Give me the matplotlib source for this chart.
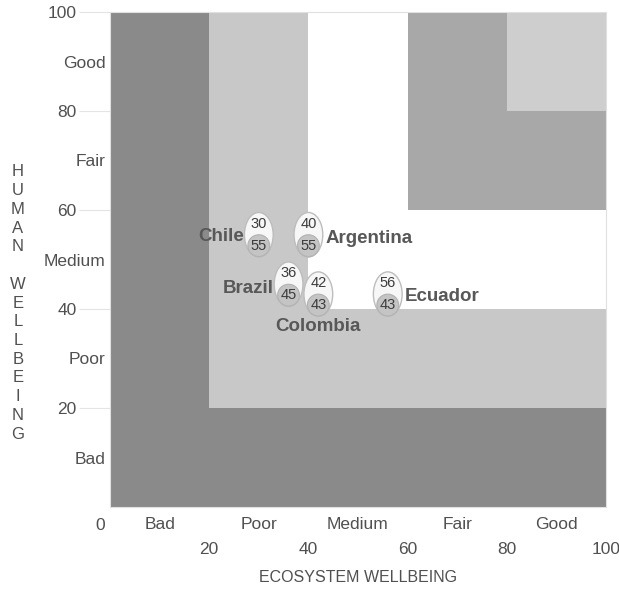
import matplotlib
matplotlib.use("Agg")
import matplotlib.pyplot as plt
from matplotlib.patches import Rectangle, Ellipse

plt.rcParams['font.family'] = ['Liberation Sans', 'DejaVu Sans']

# ---- data ----
countries = ["Chile", "Argentina", "Brazil", "Colombia", "Ecuador"]
ecosystem = [30, 40, 36, 42, 56]
human = [55, 55, 45, 43, 43]

band_edges = [0, 20, 40, 60, 80]
band_names = ["Bad", "Poor", "Medium", "Fair", "Good"]
number_ticks = [20, 40, 60, 80, 100]

# ---- styles ----
band_colors = ["#8a8a8a", "#c8c8c8", "#ffffff", "#a8a8a8", "#cecece"]
label_place = {
    "Chile": ((-11, -1), "right", "center"),
    "Argentina": ((12, -3), "left", "center"),
    "Brazil": ((-11, -3), "right", "center"),
    "Colombia": ((0, -23), "center", "center"),
    "Ecuador": ((12, -2), "left", "center"),
}
text_color = "#505050"

fig = plt.figure(figsize=(6.19, 5.92), dpi=100)
ax = fig.add_axes([110 / 619, 1 - 507 / 592, 496 / 619, 495 / 592])
ax.set_xlim(0, 100)
ax.set_ylim(0, 100)

for lo, col in zip(band_edges, band_colors):
    ax.add_patch(Rectangle((lo, lo), 100 - lo, 100 - lo, facecolor=col,
                           edgecolor="none", zorder=1))

for name, x, y in zip(countries, ecosystem, human):
    ax.add_patch(Ellipse((x, y), 5.8, 9.0, facecolor="#f7f7f7",
                         edgecolor="#bdbdbd", lw=1.0, zorder=3))
    ax.add_patch(Ellipse((x, y - 2.2), 4.4, 4.4, facecolor="#c4c4c4",
                         edgecolor="#b2b2b2", lw=0.8, zorder=4))
    ax.annotate(str(x), (x, y), xytext=(0, 8), textcoords="offset points",
                ha="center", va="center", fontsize=10.5, color="#3c3c3c", zorder=5)
    ax.annotate(str(y), (x, y), xytext=(0, -8), textcoords="offset points",
                ha="center", va="center", fontsize=10.5, color="#3c3c3c", zorder=5)
    off, ha, va = label_place[name]
    ax.annotate(name, (x, y), xytext=off, textcoords="offset points",
                ha=ha, va=va, fontsize=13.5, fontweight="bold",
                color="#585858", zorder=5)

# axis ticks
mids = [lo + 10 for lo in band_edges]
ax.set_xticks(number_ticks)
ax.set_xticklabels([str(v) for v in number_ticks])
ax.set_xticks(mids, minor=True)
ax.set_xticklabels(band_names, minor=True)
ax.tick_params(axis="x", which="major", length=0, pad=25, labelsize=12.5,
               labelcolor=text_color)
ax.tick_params(axis="x", which="minor", length=0, pad=7, labelsize=12.5,
               labelcolor=text_color)

ax.set_yticks(number_ticks)
ax.set_yticklabels([str(v) for v in number_ticks])
ax.set_yticks(mids, minor=True)
ax.set_yticklabels(band_names, minor=True)
ax.tick_params(axis="y", which="major", length=22, width=0.8, color="#e4e4e4",
               pad=2, labelsize=12.5, labelcolor=text_color)
ax.tick_params(axis="y", which="minor", length=0, pad=3, labelsize=12.5,
               labelcolor=text_color)

# corner zero
ax.annotate("0", (0, 0), xytext=(-7, -13), textcoords="offset points",
            ha="center", va="center", fontsize=12.5, color=text_color,
            annotation_clip=False)

for s in ax.spines.values():
    s.set_color("#e0e0e0")
    s.set_linewidth(0.8)

fig.text(358 / 619, 1 - 578 / 592, "ECOSYSTEM WELLBEING", ha="center",
         va="center", fontsize=11.5, color=text_color)
fig.text(18 / 619, 1 - 303 / 592, "\n".join(list("HUMAN WELLBEING")),
         ha="center", va="center", fontsize=12, color=text_color,
         linespacing=1.31)

fig.savefig("out.png", dpi=100)
